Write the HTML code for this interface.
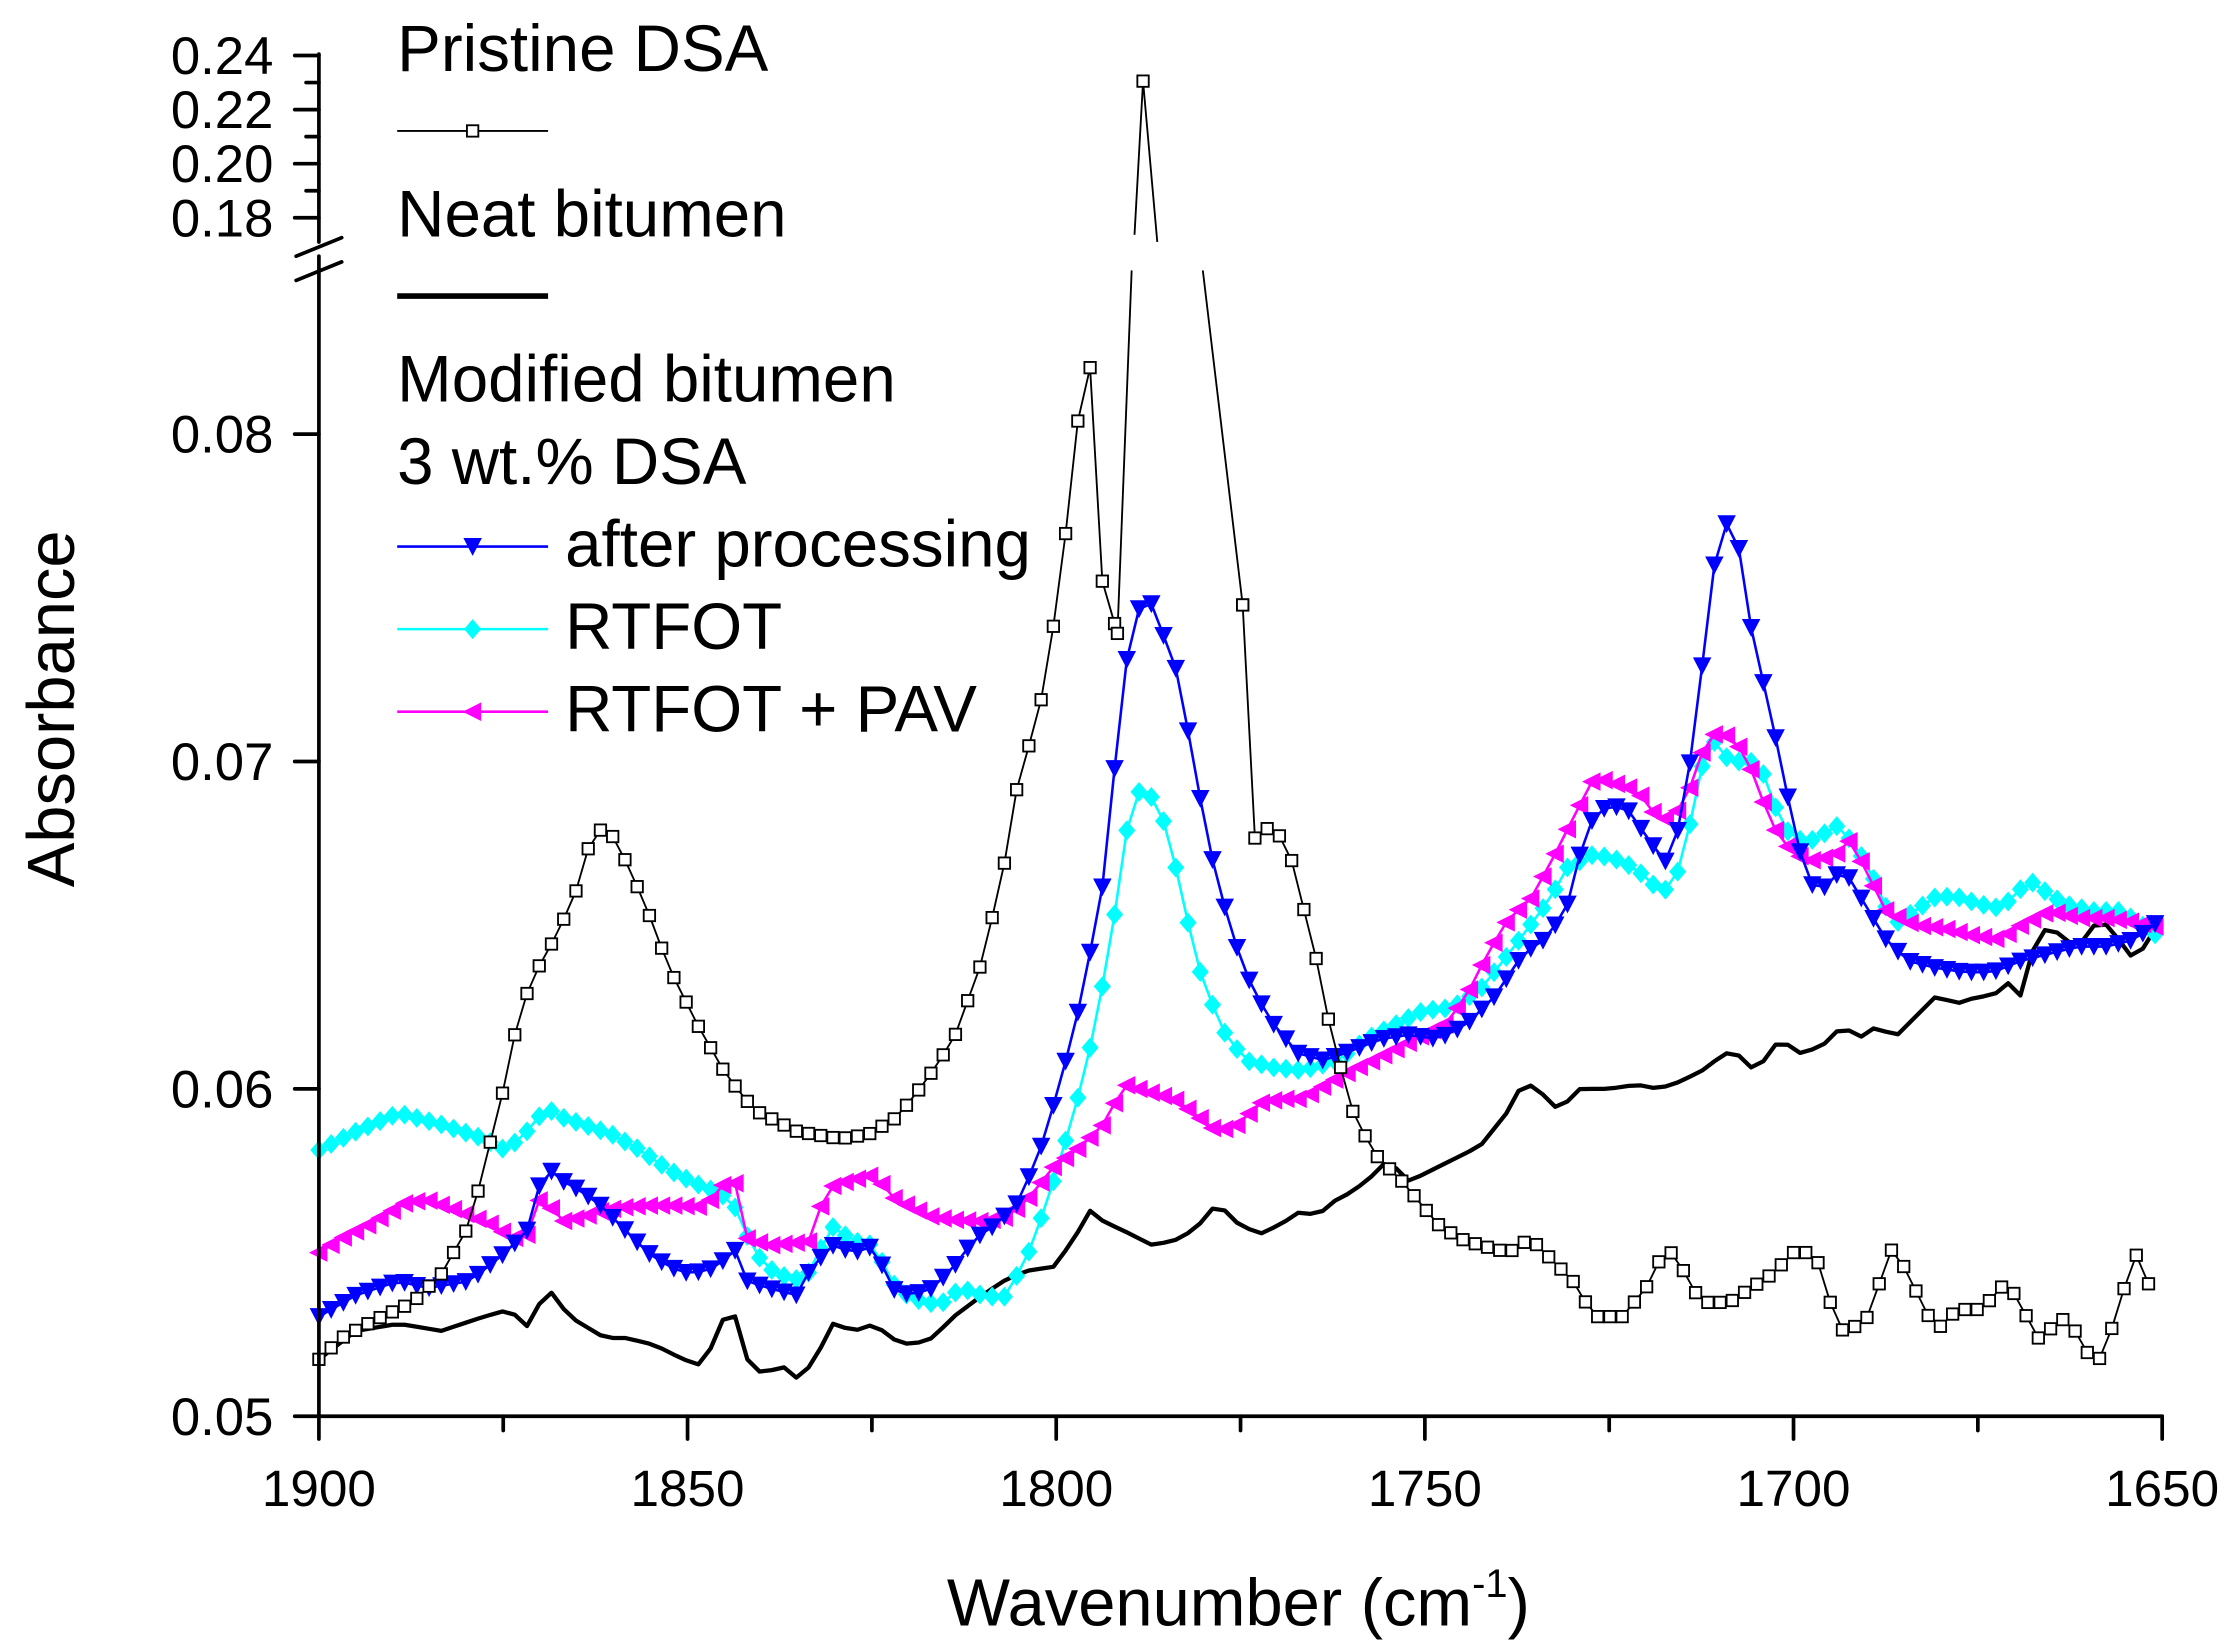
<!DOCTYPE html>
<html><head><meta charset="utf-8"><style>html,body{margin:0;padding:0;background:#fff}svg{display:block}</style></head>
<body>
<svg id="s" xmlns="http://www.w3.org/2000/svg" width="2232" height="1644" viewBox="0 0 1568 1155" font-family="Liberation Sans, Arial, sans-serif">
<rect width="1568" height="1155" fill="#fff"/>
<g id="data"></g>
<g stroke="#000" stroke-width="2.6" fill="none" stroke-linecap="round">
<line x1="224" y1="995" x2="1519" y2="995"/>
<line x1="224" y1="995" x2="224" y2="180"/>
<line x1="224" y1="170" x2="224" y2="38"/>
<line x1="208" y1="180" x2="240" y2="167"/>
<line x1="208" y1="197" x2="240" y2="184"/>
<line x1="224" y1="995" x2="207" y2="995"/>
<line x1="224" y1="765" x2="207" y2="765"/>
<line x1="224" y1="535" x2="207" y2="535"/>
<line x1="224" y1="305" x2="207" y2="305"/>
<line x1="224" y1="153" x2="207" y2="153"/>
<line x1="224" y1="115" x2="207" y2="115"/>
<line x1="224" y1="77" x2="207" y2="77"/>
<line x1="224" y1="39" x2="207" y2="39"/>
<line x1="224" y1="134" x2="215" y2="134"/>
<line x1="224" y1="96" x2="215" y2="96"/>
<line x1="224" y1="58" x2="215" y2="58"/>
</g>
<g id="xt" stroke="#000" stroke-width="2.6" stroke-linecap="round"></g>
<g font-size="37" fill="#000" text-anchor="end">
<text x="192" y="1008">0.05</text><text x="192" y="778">0.06</text><text x="192" y="548">0.07</text><text x="192" y="318">0.08</text>
<text x="192" y="166">0.18</text><text x="192" y="128">0.20</text><text x="192" y="90">0.22</text><text x="192" y="52">0.24</text>
</g>
<g font-size="36" fill="#000" text-anchor="middle">
<text x="224" y="1058">1900</text><text x="483" y="1058">1850</text><text x="742" y="1058">1800</text><text x="1001" y="1058">1750</text><text x="1260" y="1058">1700</text><text x="1519" y="1058">1650</text>
</g>
<text x="870" y="1142" font-size="47" text-anchor="middle">Wavenumber (cm<tspan font-size="28" dy="-20">-1</tspan><tspan dy="20">)</tspan></text>
<text transform="translate(52,498) rotate(-90)" font-size="47" text-anchor="middle">Absorbance</text>
<g font-size="46" fill="#000">
<text x="279" y="50">Pristine DSA</text>
<text x="279" y="166">Neat bitumen</text>
<text x="279" y="282">Modified bitumen</text>
<text x="279" y="340">3 wt.% DSA</text>
<text x="397" y="398">after processing</text>
<text x="397" y="456">RTFOT</text>
<text x="397" y="514">RTFOT + PAV</text>
</g>
<g id="leg"></g>
</svg>
<script>
const NS="http://www.w3.org/2000/svg";
const D=document.getElementById('data'),L=document.getElementById('leg'),XT=document.getElementById('xt');
function el(p,t,a){const e=document.createElementNS(NS,t);for(const k in a)e.setAttribute(k,a[k]);p.appendChild(e);return e;}
for(let i=0;i<=10;i++){const x=224+i*129.5;el(XT,'line',{x1:x,y1:995,x2:x,y2:i%2?1005:1011});}
function P(s){const a=s.trim().split(/\)\s*,\s*\(/).map(t=>t.replace(/[()]/g,'').split(',').map(Number));return a;}
function resample(pts,step){const out=[];let x0=pts[0][0];for(let x=x0;x<=pts[pts.length-1][0]+0.01;x+=step){let i=0;while(i<pts.length-2&&pts[i+1][0]<x)i++;const a=pts[i],b=pts[i+1];const t=(x-a[0])/((b[0]-a[0])||1);out.push([x,a[1]+(b[1]-a[1])*Math.max(0,Math.min(1,t))]);}return out;}
function marker(p,type,x,y,c){
 if(type=='sq')el(p,'rect',{x:x-4,y:y-4,width:8,height:8,fill:'#fff',stroke:'#000','stroke-width':1.3});
 else if(type=='dn')el(p,'polygon',{points:`${x-6.5},${y-6} ${x+6.5},${y-6} ${x},${y+6.5}`,fill:c});
 else if(type=='di')el(p,'polygon',{points:`${x},${y-7} ${x+6},${y} ${x},${y+7} ${x-6},${y}`,fill:c});
 else if(type=='lt')el(p,'polygon',{points:`${x-7},${y} ${x+6},${y-6.5} ${x+6},${y+6.5}`,fill:c});
}
function series(s,c,type,w){const pts=P(s);const r=resample(pts,8.6);
 el(D,'polyline',{points:r.map(p=>p.join(',')).join(' '),fill:'none',stroke:c,'stroke-width':w,'stroke-linejoin':'round'});
 if(type)r.forEach(p=>marker(D,type,p[0],p[1],c));}
series("(224,955),(250,935),(280,930),(310,935),(340,925),(358,920),(370,932),(385,905),(400,925),(425,940),(440,940),(460,945),(480,955),(495,960),(505,930),(515,920),(525,955),(535,965),(550,960),(562,970),(575,950),(585,930),(600,935),(615,930),(625,940),(640,945),(655,940),(670,925),(690,910),(705,900),(720,893),(740,890),(755,870),(765,850),(775,858),(790,865),(810,875),(830,870),(845,858),(855,845),(870,860),(885,867),(900,860),(915,850),(925,855),(935,845),(945,840),(960,830),(975,815),(990,830),(1000,825),(1020,815),(1040,805),(1060,780),(1070,760),(1080,765),(1095,780),(1110,765),(1130,765),(1150,762),(1165,765),(1180,760),(1200,750),(1210,740),(1220,740),(1230,750),(1240,745),(1250,730),(1265,740),(1280,735),(1295,720),(1305,730),(1320,720),(1330,730),(1345,715),(1360,700),(1375,705),(1390,700),(1400,700),(1410,690),(1420,700),(1430,660),(1440,650),(1450,660),(1460,665),(1475,645),(1485,655),(1495,670),(1502,675),(1510,655),(1519,650)","#000",null,3);
series("(224,808),(250,795),(280,782),(310,790),(340,800),(355,808),(365,800),(375,790),(383,778),(395,785),(410,790),(430,797),(450,808),(470,822),(490,832),(505,838),(515,845),(530,880),(545,895),(565,900),(575,880),(585,862),(600,872),(615,875),(625,900),(640,912),(660,917),(675,905),(690,910),(705,912),(715,895),(725,875),(740,830),(755,780),(765,740),(780,665),(790,590),(798,557),(805,555),(815,568),(825,605),(835,650),(845,690),(860,725),(875,745),(895,750),(915,752),(940,745),(960,730),(980,720),(1000,710),(1020,708),(1040,695),(1060,670),(1075,650),(1090,630),(1100,610),(1110,605),(1120,600),(1140,605),(1155,615),(1165,625),(1175,625),(1185,590),(1195,540),(1205,520),(1215,535),(1230,535),(1240,545),(1250,575),(1260,590),(1275,590),(1290,580),(1300,590),(1310,605),(1320,625),(1330,650),(1345,640),(1360,630),(1375,630),(1390,635),(1405,638),(1415,630),(1425,618),(1435,625),(1450,635),(1470,640),(1490,640),(1505,650),(1519,660)","#00ffff","di",1.8);
series("(224,880),(240,870),(260,860),(285,845),(300,843),(320,850),(345,860),(360,870),(370,868),(380,840),(395,858),(410,855),(425,850),(440,848),(455,847),(475,847),(495,848),(510,830),(515,825),(525,870),(540,875),(560,873),(570,872),(580,835),(595,830),(615,825),(625,840),(640,848),(655,855),(670,857),(690,858),(705,856),(720,845),(740,820),(760,805),(775,790),(790,762),(810,768),(825,772),(840,783),(855,795),(870,790),(885,775),(900,772),(915,772),(935,760),(950,752),(965,745),(985,735),(1000,727),(1015,720),(1030,700),(1045,670),(1060,645),(1075,632),(1090,605),(1105,575),(1120,546),(1140,552),(1150,555),(1157,565),(1165,575),(1175,575),(1185,560),(1195,530),(1205,515),(1218,518),(1230,540),(1245,580),(1260,600),(1275,605),(1290,600),(1300,590),(1310,610),(1325,640),(1345,650),(1365,652),(1385,657),(1405,660),(1420,650),(1440,640),(1460,645),(1480,645),(1500,648),(1519,652)","#ff00ff","lt",1.8);
series("(224,925),(250,910),(280,900),(300,905),(330,900),(355,880),(370,865),(383,818),(392,828),(405,835),(420,845),(440,865),(455,880),(470,890),(485,895),(505,890),(515,875),(525,900),(540,905),(560,910),(570,890),(585,875),(600,880),(615,875),(625,905),(640,910),(655,905),(670,890),(685,870),(700,860),(715,845),(730,810),(745,760),(760,700),(775,620),(790,470),(804,412),(815,440),(828,475),(840,545),(852,605),(865,655),(880,695),(895,720),(912,740),(930,745),(950,738),(970,730),(990,727),(1010,730),(1030,720),(1050,700),(1070,670),(1085,660),(1100,640),(1115,580),(1130,565),(1145,570),(1158,590),(1170,605),(1182,575),(1190,515),(1198,450),(1203,405),(1210,365),(1220,375),(1230,440),(1240,485),(1250,530),(1260,580),(1270,620),(1280,625),(1295,610),(1310,635),(1325,660),(1340,675),(1360,680),(1380,683),(1400,683),(1420,675),(1440,670),(1460,665),(1480,665),(1500,660),(1519,645)","#0000ff","dn",1.8);
(function(){
 const A=P("(224,955),(240,940),(262,928),(290,915),(310,895),(330,860),(345,800),(355,760),(365,710),(378,680),(392,655),(405,625),(415,590),(425,580),(432,590),(442,610),(455,640),(470,680),(490,720),(510,755),(530,780),(560,795),(590,800),(610,797),(630,785),(650,760),(670,730),(690,675),(705,610),(715,550),(730,500),(740,440),(748,380),(755,320),(760,265),(765,240),(772,400),(785,445)");
 const B=P("(873,425),(880,590),(893,580),(905,595),(915,635),(925,675),(935,725),(950,780),(965,810),(985,830),(1010,860),(1025,870),(1040,875),(1060,880),(1075,870),(1090,885),(1105,900),(1120,925),(1140,925),(1160,900),(1170,875),(1180,888),(1195,915),(1215,915),(1230,905),(1245,895),(1260,880),(1275,880),(1292,935),(1310,930),(1330,875),(1345,905),(1360,935),(1375,920),(1392,920),(1410,900),(1432,940),(1452,925),(1472,960),(1480,945),(1500,880),(1515,915)");
 const ra=resample(A,8.6),rb=resample(B,8.6);
 el(D,'polyline',{points:ra.map(p=>p.join(',')).join(' ')+' 785,445 795,190',fill:'none',stroke:'#000','stroke-width':1.3});
 el(D,'polyline',{points:'797,165 803,57 813,170',fill:'none',stroke:'#000','stroke-width':1.3});
 el(D,'polyline',{points:'845,190 873,425 '+rb.map(p=>p.join(',')).join(' '),fill:'none',stroke:'#000','stroke-width':1.3});
 ra.forEach(p=>marker(D,'sq',p[0],p[1]));rb.forEach(p=>marker(D,'sq',p[0],p[1]));
 marker(D,'sq',803,57);marker(D,'sq',873,425);marker(D,'sq',785,445);
})();
el(L,'line',{x1:279,y1:92,x2:385,y2:92,stroke:'#000','stroke-width':1.3});marker(L,'sq',332,92);
el(L,'line',{x1:279,y1:208,x2:385,y2:208,stroke:'#000','stroke-width':4});
[['#0000ff','dn',384],['#00ffff','di',442],['#ff00ff','lt',500]].forEach(a=>{el(L,'line',{x1:279,y1:a[2],x2:385,y2:a[2],stroke:a[0],'stroke-width':1.8});marker(L,a[1],332,a[2],a[0]);});
</script>
</body></html>
